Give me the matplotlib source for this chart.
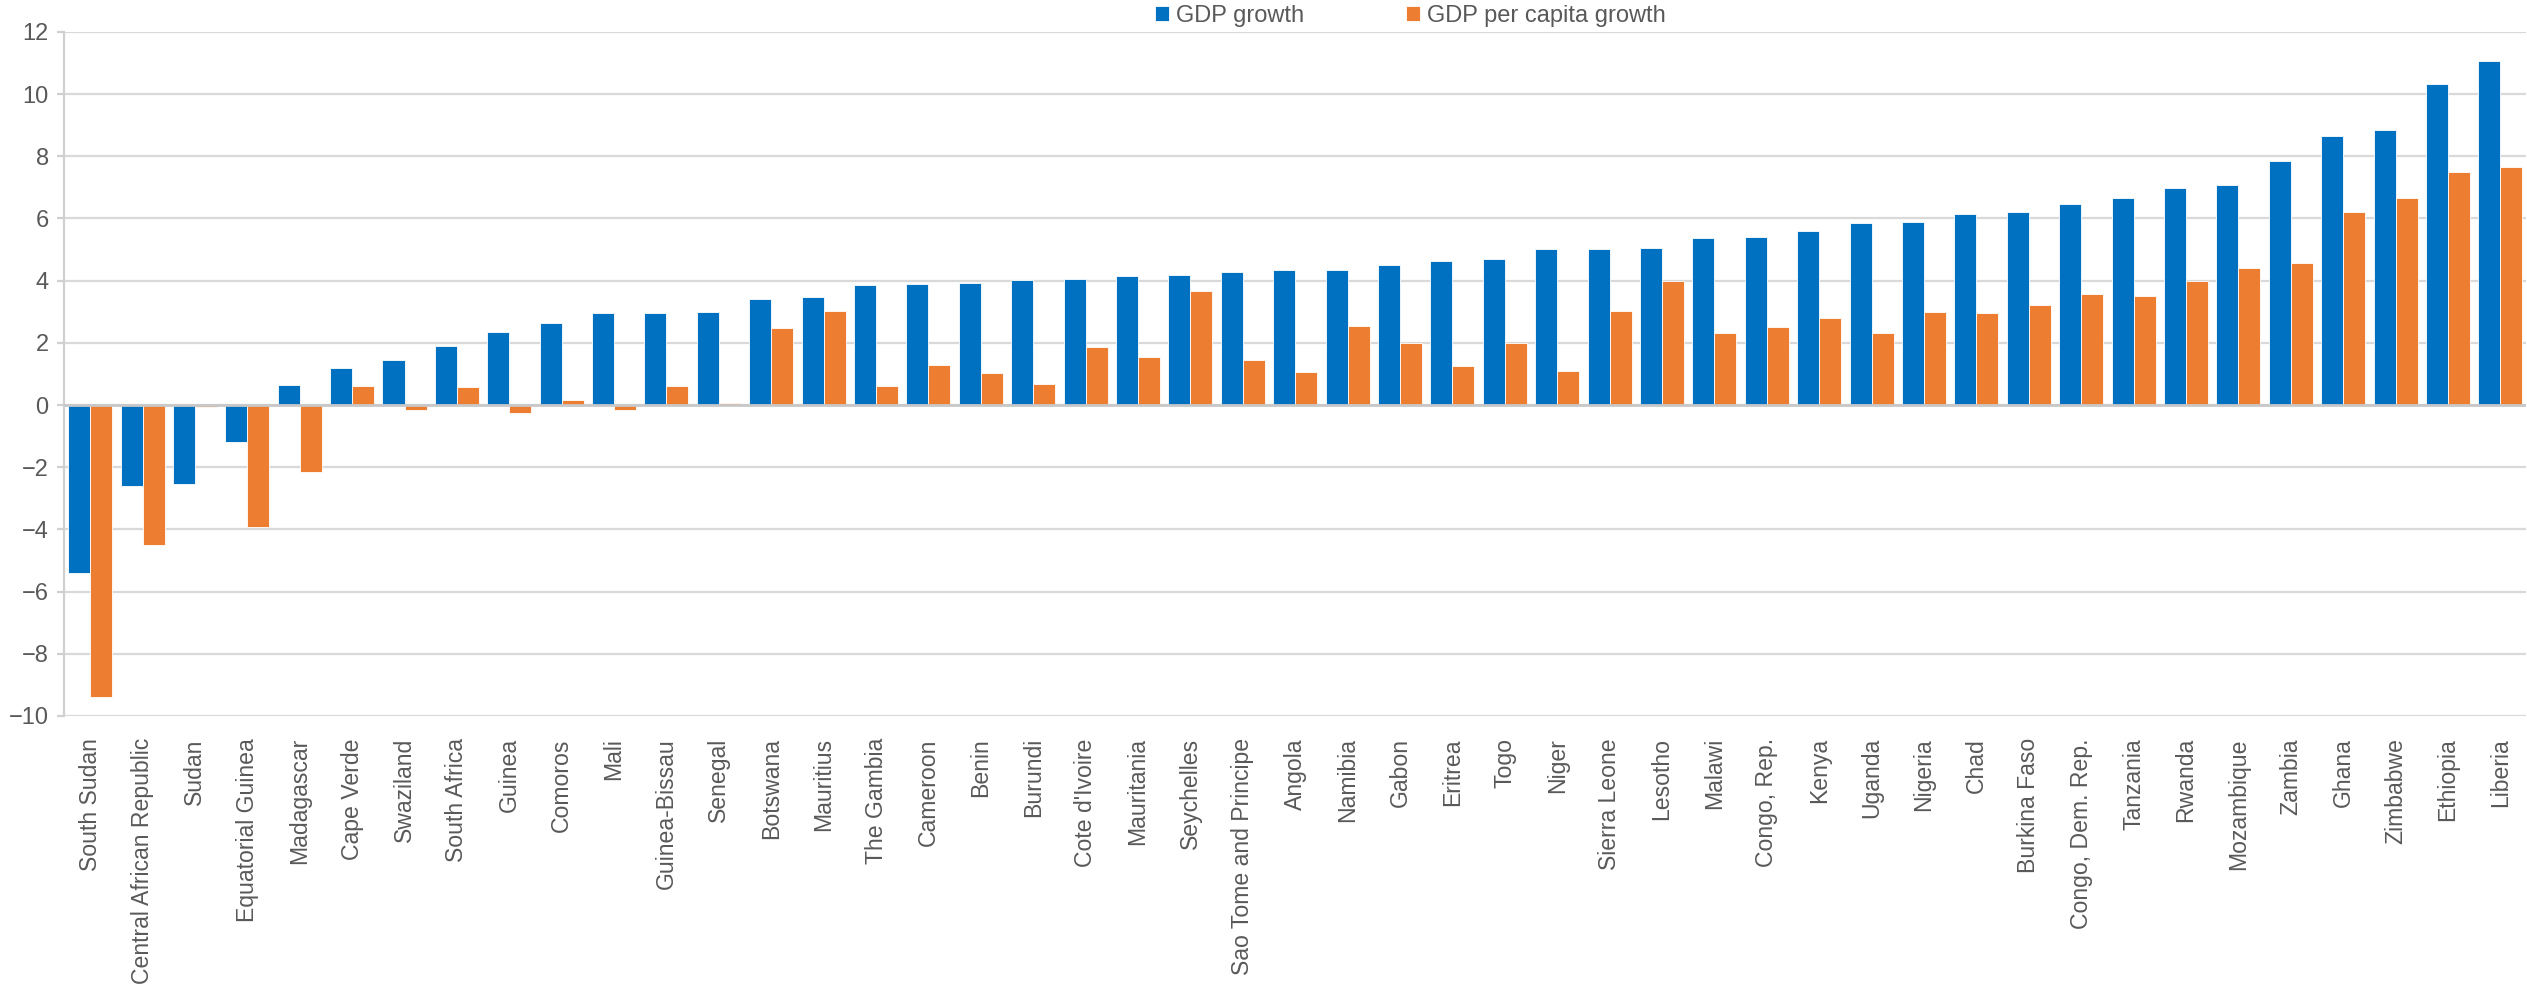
import numpy as np
import matplotlib.pyplot as plt

plt.rcParams['font.family'] = ['Liberation Sans', 'DejaVu Sans']

countries = ['South Sudan', 'Central African Republic', 'Sudan', 'Equatorial Guinea',
             'Madagascar', 'Cape Verde', 'Swaziland', 'South Africa', 'Guinea', 'Comoros',
             'Mali', 'Guinea-Bissau', 'Senegal', 'Botswana', 'Mauritius', 'The Gambia',
             'Cameroon', 'Benin', 'Burundi', "Cote d'Ivoire", 'Mauritania', 'Seychelles',
             'Sao Tome and Principe', 'Angola', 'Namibia', 'Gabon', 'Eritrea', 'Togo',
             'Niger', 'Sierra Leone', 'Lesotho', 'Malawi', 'Congo, Rep.', 'Kenya',
             'Uganda', 'Nigeria', 'Chad', 'Burkina Faso', 'Congo, Dem. Rep.', 'Tanzania',
             'Rwanda', 'Mozambique', 'Zambia', 'Ghana', 'Zimbabwe', 'Ethiopia', 'Liberia']

gdp_growth = [-5.41, -2.62, -2.54, -1.19, 0.63, 1.18, 1.44, 1.91, 2.36, 2.65,
              2.95, 2.97, 3.00, 3.42, 3.48, 3.87, 3.90, 3.91, 4.01, 4.04,
              4.16, 4.17, 4.29, 4.33, 4.35, 4.49, 4.62, 4.69, 5.03, 5.03,
              5.06, 5.37, 5.40, 5.61, 5.84, 5.87, 6.13, 6.22, 6.47, 6.67,
              6.97, 7.09, 7.85, 8.66, 8.85, 10.32, 11.06]

gdp_pc_growth = [-9.38, -4.51, -0.06, -3.93, -2.16, 0.61, -0.17, 0.57, -0.26, 0.15,
                 -0.15, 0.60, 0.08, 2.49, 3.03, 0.61, 1.28, 1.03, 0.66, 1.85,
                 1.53, 3.68, 1.46, 1.07, 2.55, 2.00, 1.27, 2.00, 1.08, 3.02,
                 4.00, 2.32, 2.52, 2.81, 2.33, 2.98, 2.97, 3.21, 3.57, 3.51,
                 3.98, 4.42, 4.57, 6.21, 6.67, 7.49, 7.64]

grey = '#595959'
x = np.arange(len(countries))
w = 0.42

fig = plt.figure(figsize=(25.27, 9.9), dpi=100)
ax = fig.add_axes([0.0253, 0.2768, 0.9745, 0.691])

ax.bar(x - w/2, gdp_growth, w, color='#0070C0', edgecolor='white', linewidth=0.6,
       label='GDP growth', zorder=3)
ax.bar(x + w/2, gdp_pc_growth, w, color='#ED7D31', edgecolor='white', linewidth=0.6,
       label='GDP per capita growth', zorder=3)

ax.set_ylim(-10, 12)
ax.set_xlim(-0.5, len(countries) - 0.5)
ax.set_yticks(range(-10, 13, 2))
ax.grid(axis='y', color='#D9D9D9', linewidth=1.6, zorder=0)
ax.axhline(0, color='#C8C8C8', linewidth=2, zorder=4)

for s in ['top', 'right', 'bottom']:
    ax.spines[s].set_visible(False)
ax.spines['left'].set_color('#D0D0D0')
ax.spines['left'].set_linewidth(1.6)

ax.set_xticks(x)
ax.set_xticklabels(countries, rotation=90, fontsize=16.6, color=grey)
ax.tick_params(axis='x', length=0, pad=16)
ax.tick_params(axis='y', labelsize=17, labelcolor=grey, color='#D0D0D0',
               length=5, width=1.6, pad=6)

leg = fig.legend(loc='center', bbox_to_anchor=(0.558, 0.984), ncol=2, frameon=False,
                 fontsize=17, handlelength=0.6, handleheight=0.6, handletextpad=0.3,
                 columnspacing=4.3, borderpad=0)
for t in leg.get_texts():
    t.set_color(grey)

fig.savefig('out.png', dpi=100)
